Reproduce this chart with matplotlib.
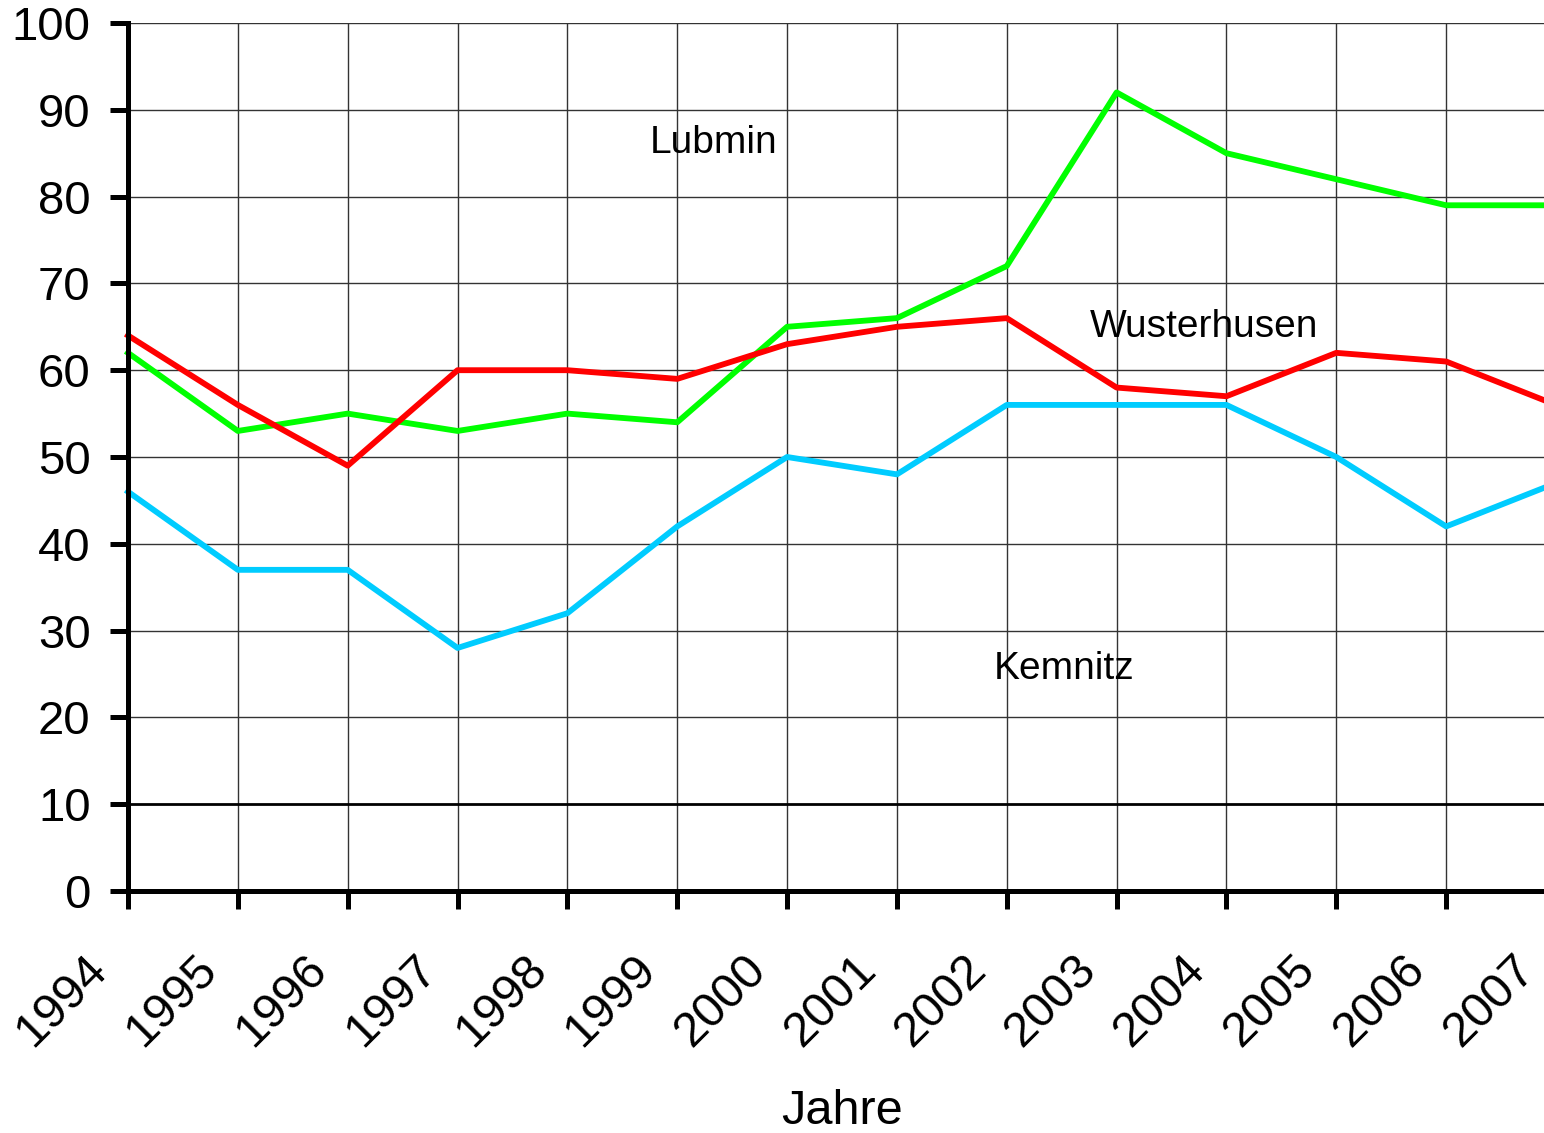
import matplotlib
matplotlib.use("Agg")
import matplotlib.pyplot as plt
from matplotlib.transforms import ScaledTranslation

years = [1994, 1995, 1996, 1997, 1998, 1999, 2000, 2001, 2002, 2003, 2004, 2005, 2006, 2007]
lubmin = [62, 53, 55, 53, 55, 54, 65, 66, 72, 92, 85, 82, 79, 79]
wusterhusen = [64, 56, 49, 60, 60, 59, 63, 65, 66, 58, 57, 62, 61, 56]
kemnitz = [46, 37, 37, 28, 32, 42, 50, 48, 56, 56, 56, 50, 42, 47]
yticks = list(range(0, 101, 10))

plt.rcParams['font.family'] = ['Liberation Sans', 'DejaVu Sans']

fig = plt.figure(figsize=(15.44, 11.33), dpi=100)
W, H = 1544, 1133
x0, x1 = 128, 1556
y_top, y_bot = 23, 891
ax = fig.add_axes([x0 / W, 1 - y_bot / H, (x1 - x0) / W, (y_bot - y_top) / H])

lw = 4.2
ax.plot(years, lubmin, color='#00FF00', lw=lw, clip_on=False)
ax.plot(years, wusterhusen, color='#FF0000', lw=lw, clip_on=False)
ax.plot(years, kemnitz, color='#00CCFF', lw=lw, clip_on=False)

ax.set_xlim(1994, 2007)
ax.set_ylim(0, 100)
ax.set_xticks(years)
ax.set_yticks(yticks)
ax.set_yticklabels([str(v) for v in yticks], fontsize=34)
ax.set_xticklabels([str(y) for y in years], fontsize=35, rotation=45, ha='right')

ax.grid(True, color='#333333', lw=1.0)
ax.set_axisbelow(True)
ygl = ax.get_ygridlines()
ygl[1].set_linewidth(2.0)
ygl[1].set_color('black')

for s in ['top', 'right']:
    ax.spines[s].set_visible(False)
for s in ['left', 'bottom']:
    ax.spines[s].set_linewidth(3.6)
    ax.spines[s].set_color('black')
    ax.spines[s].set_zorder(5)

ax.tick_params(axis='y', direction='out', length=13, width=3.6, pad=14)
ax.tick_params(axis='x', direction='out', length=13, width=3.6, pad=27)

offset = ScaledTranslation(-12 / 100, 0, fig.dpi_scale_trans)
for lbl in ax.get_xticklabels():
    lbl.set_transform(lbl.get_transform() + offset)

ax.set_xlabel('Jahre', fontsize=35)
ax.xaxis.set_label_coords((842 - x0) / (x1 - x0), -0.228)

ax.text(1999.33, 86.2, 'Lubmin', fontsize=28, ha='center', va='center')
ax.text(2003.8, 65.0, 'Wusterhusen', fontsize=28, ha='center', va='center')
ax.text(2002.52, 25.6, 'Kemnitz', fontsize=28, ha='center', va='center')

fig.savefig('out.png', dpi=100, facecolor='white')
